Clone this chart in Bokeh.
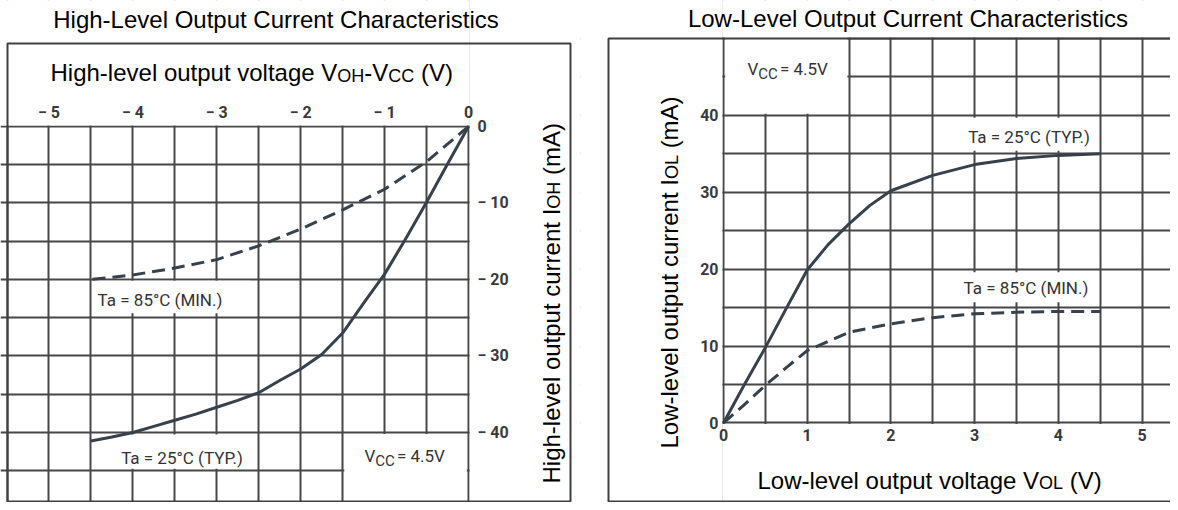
import numpy as np
from bokeh.plotting import figure
from bokeh.models import FixedTicker, Label, BoxAnnotation
from bokeh.layouts import row
from bokeh.embed import file_html
from bokeh.resources import INLINE

# ---------------- data ----------------
# High-level output: V_OH - V_CC (V) vs I_OH (mA)
hi_v_25 = [0, -0.25, -0.5, -0.75, -1.0, -1.25, -1.5, -1.75, -2.0, -2.25, -2.5, -2.75,
           -3.0, -3.25, -3.5, -3.75, -4.0, -4.25, -4.5]
hi_i_25 = [0, -4.9, -9.9, -14.7, -19.3, -23.1, -27.0, -29.8, -31.7, -33.2, -34.8, -35.8,
           -36.7, -37.6, -38.4, -39.2, -40.0, -40.6, -41.1]
hi_v_85 = [0, -0.5, -1.0, -1.5, -2.0, -2.5, -3.0, -3.5, -4.0, -4.5]
hi_i_85 = [0, -4.6, -8.2, -10.9, -13.4, -15.6, -17.4, -18.5, -19.4, -20.0]
hi_v_ticks = [-5, -4, -3, -2, -1, 0]
hi_v_ticklabels = ["− 5", "− 4", "− 3", "− 2", "− 1", "0"]
hi_i_ticks = [0, -10, -20, -30, -40]
hi_i_ticklabels = ["0", "− 10", "− 20", "− 30", "− 40"]

# Low-level output: V_OL (V) vs I_OL (mA)
lo_v_25 = [0, 0.25, 0.5, 0.75, 1.0, 1.25, 1.5, 1.75, 2.0, 2.5, 3.0, 3.5, 4.0, 4.5]
lo_i_25 = [0, 5.0, 9.8, 14.9, 19.9, 23.2, 25.9, 28.3, 30.2, 32.2, 33.6, 34.4, 34.8, 35.0]
lo_v_85 = [0, 0.25, 0.5, 0.75, 1.0, 1.5, 2.0, 2.5, 3.0, 3.5, 4.0, 4.5]
lo_i_85 = [0, 2.4, 4.9, 7.2, 9.4, 11.8, 12.9, 13.7, 14.2, 14.4, 14.5, 14.5]
lo_v_ticks = [0, 1, 2, 3, 4, 5]
lo_i_ticks = [0, 10, 20, 30, 40]

# ---------------- style ----------------
GRID = "#474747"
CURVE = "#36414b"
FRAME = "#3f3f3f"
TXT = "#333333"
SANS = "Liberation Sans"
COND = "Roboto"
DASH = "13 7"
H = 502
LW, RW = 580, 590
BSHIFT = 0.34  # baseline correction, fraction of font size

ARIAL = {' ': 278, '(': 333, ')': 333, '-': 333, 'A': 667, 'C': 722, 'H': 722, 'I': 278,
         'L': 556, 'O': 778, 'V': 667, 'a': 556, 'c': 500, 'e': 556, 'g': 556, 'h': 556,
         'i': 222, 'l': 222, 'm': 833, 'n': 556, 'o': 556, 'p': 556, 'r': 333, 's': 500,
         't': 278, 'u': 556, 'v': 500, 'w': 722}


def tw(s, size):
    return sum(ARIAL.get(c, 556) for c in s) * size / 1000.0


# pixel scales (frame = whole canvas)
LX0, LPX, LY1, LPY = -5.578, 83.9, 16.47, 7.65
RX0, RPX, RY1, RPY = -1.7085, 83.7, 54.94, 7.69
ROFF = LW  # page x of right canvas


def lx(px): return LX0 + px / LPX
def ly(py): return LY1 - py / LPY
def rx(px): return RX0 + (px - ROFF) / RPX
def ry(py): return RY1 - py / RPY


def style(p, standoffs):
    p.background_fill_color = "white"
    p.border_fill_color = "white"
    p.outline_line_color = None
    for ax, so in zip(p.axis, standoffs):
        ax.fixed_location = 0
        ax.axis_line_color = None
        ax.major_tick_line_color = None
        ax.minor_tick_line_color = None
        ax.major_tick_out = 0
        ax.major_tick_in = 0
        ax.minor_tick_out = 0
        ax.major_label_standoff = so
        ax.major_label_text_font = COND
        ax.major_label_text_font_size = "16px"
        ax.major_label_text_font_style = "bold"
        ax.major_label_text_color = "#3a3a3a"
    for g in p.xgrid + p.ygrid:
        g.grid_line_color = GRID
        g.grid_line_width = 2


def composite(p, pieces, x, y, angle=0):
    """pieces: (text, size, lowered_px); anchored on the baseline at data (x, y)."""
    along = 0.0
    for text, size, low in pieces:
        lead = len(text) - len(text.lstrip(" "))
        along += tw(" " * lead, size)
        t = text.strip(" ")
        corr = BSHIFT * 24
        if angle == 0:
            xo, yo = along, -low + corr
        else:
            xo, yo = low - corr, along
        p.add_layout(Label(x=x, y=y, text=t, x_offset=xo, y_offset=yo,
                           angle=angle, angle_units="deg", text_font=SANS,
                           text_font_size=f"{size}px", text_color="black",
                           text_align="left", text_baseline="alphabetic"))
        along += tw(t, size)


def box(p, l, r, b, t, level="annotation"):
    p.add_layout(BoxAnnotation(left=l, right=r, bottom=b, top=t, fill_color="white",
                               fill_alpha=1.0, line_color=None, level=level))


def frame(p, l, r, t, b):
    p.add_layout(BoxAnnotation(left=l, right=r, top=t, bottom=b, fill_color=None,
                               fill_alpha=0, line_color=FRAME, line_alpha=1.0,
                               line_width=2))


def note(p, text, x, y):
    p.add_layout(Label(x=x, y=y, text=text, text_font=COND, text_font_size="17px",
                       text_color=TXT, text_align="center", text_baseline="middle"))


def vcc(p, x, y):
    c = 7
    p.add_layout(Label(x=x, y=y, text="V", y_offset=c, text_font=COND, text_font_size="17px",
                       text_color=TXT, text_baseline="alphabetic"))
    p.add_layout(Label(x=x, y=y, text="CC", x_offset=10.8, y_offset=c - 5, text_font=COND,
                       text_font_size="15px", text_color=TXT, text_baseline="alphabetic"))
    p.add_layout(Label(x=x, y=y, text="= 4.5V", x_offset=32.4, y_offset=c, text_font=COND,
                       text_font_size="17px", text_color=TXT, text_baseline="alphabetic"))


def title(p, text, x, y):
    p.add_layout(Label(x=x, y=y, y_offset=BSHIFT * 24, text=text, text_font=SANS,
                       text_font_size="24px", text_color="black", text_align="center",
                       text_baseline="alphabetic"))


# ---------------- left: high-level ----------------
L = figure(width=LW, height=H, x_range=(LX0, lx(LW)), y_range=(ly(H), LY1),
           x_axis_location="above", y_axis_location="right",
           min_border_left=0, min_border_right=0, min_border_top=0, min_border_bottom=0,
           output_backend="svg", toolbar_location=None)
L.xaxis[0].ticker = FixedTicker(ticks=hi_v_ticks)
L.xaxis[0].major_label_overrides = dict(zip(hi_v_ticks, hi_v_ticklabels))
L.yaxis[0].ticker = FixedTicker(ticks=hi_i_ticks)
L.yaxis[0].major_label_overrides = dict(zip(hi_i_ticks, hi_i_ticklabels))
style(L, [4, 9])
L.xgrid[0].ticker = FixedTicker(ticks=list(np.arange(-5.5, 0.01, 0.5)))
L.ygrid[0].ticker = FixedTicker(ticks=list(np.arange(-45, 0.1, 5)))

# keep the grid inside its quadrant
box(L, LX0 - 1, 0.014, 0.14, LY1 + 1, level="underlay")
box(L, 0.014, 5, ly(H) - 1, LY1 + 1, level="underlay")
# label cut-outs
box(L, -1.48, -0.02, -60, -40.2)
box(L, -4.47, -2.6, -24.4, -20.15)
box(L, -4.45, -2.55, -44.75, -40.25)

r1 = L.line(hi_v_25, hi_i_25, line_color=CURVE, line_width=3, line_join="round")
r2 = L.line(hi_v_85, hi_i_85, line_color=CURVE, line_width=3, line_dash=DASH)
r1.level = "overlay"
r2.level = "overlay"

note(L, "Ta = 85°C (MIN.)", lx(159.5), ly(299))
note(L, "Ta = 25°C (TYP.)", lx(181.5), ly(457))
vcc(L, lx(364), ly(462))

title(L, "High-Level Output Current Characteristics", lx(275.5), ly(27))
composite(L, [("High-level output voltage V", 24, 0), ("OH", 18, 3), ("-V", 24, 0),
              ("CC", 18, 3), (" (V)", 24, 0)], lx(50), ly(80.5))
composite(L, [("High-level output current I", 24, 0), ("OH", 18, 3), (" (mA)", 24, 0)],
          lx(559), ly(483), angle=90)
frame(L, lx(7), lx(570), ly(43), ly(501))

# ---------------- right: low-level ----------------
R = figure(width=RW, height=H, x_range=(RX0, rx(ROFF + RW)), y_range=(ry(H), RY1),
           x_axis_location="below", y_axis_location="left",
           min_border_left=0, min_border_right=0, min_border_top=0, min_border_bottom=0,
           output_backend="svg", toolbar_location=None)
R.xaxis[0].ticker = FixedTicker(ticks=lo_v_ticks)
R.yaxis[0].ticker = FixedTicker(ticks=lo_i_ticks)
style(R, [6, 5])
R.xgrid[0].ticker = FixedTicker(ticks=list(np.arange(0, 5.01, 0.5)))
R.ygrid[0].ticker = FixedTicker(ticks=list(np.arange(0, 50.1, 5)))

box(R, RX0 - 1, -0.014, ry(H) - 1, RY1 + 1, level="underlay")
box(R, -0.014, 10, ry(H) - 1, -0.14, level="underlay")
box(R, -0.014, 10, 50.14, RY1 + 1, level="underlay")
box(R, 0.02, 1.48, 40.2, 51)
box(R, 2.88, 4.45, 35.4, 39.7)
box(R, 2.85, 4.45, 15.7, 19.6)

r3 = R.line(lo_v_25, lo_i_25, line_color=CURVE, line_width=3, line_join="round")
r4 = R.line(lo_v_85, lo_i_85, line_color=CURVE, line_width=3, line_dash=DASH)
r3.level = "overlay"
r4.level = "overlay"

note(R, "Ta = 25°C (TYP.)", rx(1028.5), ry(136))
note(R, "Ta = 85°C (MIN.)", rx(1025.5), ry(287))
vcc(R, rx(747), ry(75))

title(R, "Low-Level Output Current Characteristics", rx(907.5), ry(26))
composite(R, [("Low-level output voltage V", 24, 0), ("OL", 18, 3), (" (V)", 24, 0)],
          rx(757), ry(488))
composite(R, [("Low-level output current I", 24, 0), ("OL", 18, 3), (" (mA)", 24, 0)],
          rx(677), ry(448), angle=90)
frame(R, rx(608), rx(ROFF + RW + 20), 50, ry(501))

layout = row(L, R)
open("out.html", "w").write(file_html(layout, INLINE))
